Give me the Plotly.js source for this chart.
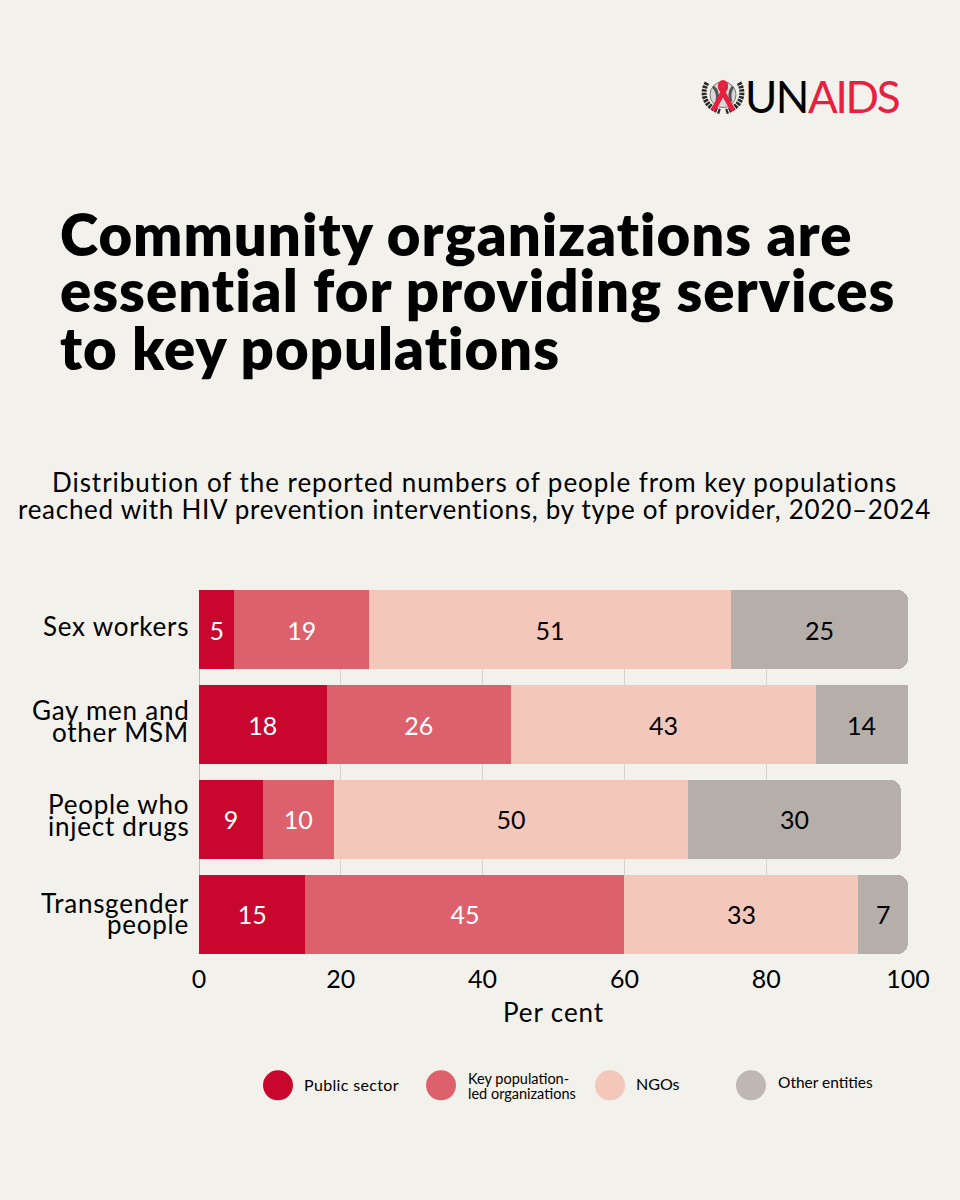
<!DOCTYPE html>
<html><head><meta charset="utf-8">
<script src="https://cdn.plot.ly/plotly-3.0.1.min.js"></script>
<style>html,body{margin:0;padding:0;background:#f2f1ec}</style></head>
<body><div id="chart" style="width:960px;height:1200px"></div>
<script>
const categories = ["Sex workers","Gay men and other MSM","People who inject drugs","Transgender people"];
const categoryLines = [["Sex workers"],["Gay men and","other MSM"],["People who","inject drugs"],["Transgender","people"]];
const seriesNames = ["Public sector","Key population-led organizations","NGOs","Other entities"];
const publicSector = [5,18,9,15];
const keyPopLed = [19,26,10,45];
const ngos = [51,43,50,33];
const otherEntities = [25,14,30,7];
const barColors = ["#c9062d","#dc616d","#f4c7bb","#b6aea8"];
const legendColors = ["#c9062d","#dc616d","#f4c7bb","#bfb7b2"];
const textColors = ["#fff","#fff","#000","#000"];
const titleLines = ["Community organizations are","essential for providing services","to key populations"];
const subtitleLines = ["Distribution of the reported numbers of people from key populations","reached with HIV prevention interventions, by type of provider, 2020–2024"];
const xTicks = [0,20,40,60,80,100];

const L=199,T=590,W=709,H=364.5;
const px=x=>(x-L)/W, py=y=>1-(y-T)/H;
const F="Lato, sans-serif";
const sp=(t,s)=>`<span style="letter-spacing:${s}px">${t}</span>`;
const ann=(text,x,y,size,anchor,opts)=>Object.assign({text,x:px(x),y:py(y),xref:"paper",yref:"paper",showarrow:false,xanchor:anchor,yanchor:"middle",align:anchor==="middle"?"center":anchor,font:{family:F,size,color:"#000"},borderpad:0,borderwidth:0},opts||{});

const annotations=[];
titleLines.forEach((t,i)=>annotations.push(ann(sp(t,1.0),60,[233,289,347][i],58,"left",{font:{family:F,size:58,color:"#000",weight:800}})));
subtitleLines.forEach((t,i)=>annotations.push(ann(sp(t,[0.95,0.72][i]),474.5,[482,509][i],26,"middle")));
const catY=[[626],[710,732],[804,826],[903,924]];
categoryLines.forEach((ls,i)=>ls.forEach((t,j)=>annotations.push(ann(sp(t,0.75),189,catY[i][j],26,"right"))));
// legend
const legendX=[278,441,610,751];
const shapes=legendX.map((x,i)=>({type:"circle",xref:"paper",yref:"paper",x0:px(x-15),x1:px(x+15),y0:py(1101),y1:py(1071),fillcolor:legendColors[i],line:{width:0}}));
annotations.push(ann(sp("Public sector",0.35),304,1085,16,"left"));
annotations.push(ann("Key population-",468,1079,14.5,"left"));
annotations.push(ann("led organizations",468,1094,14.5,"left"));
annotations.push(ann("NGOs",636,1084,16,"left"));
annotations.push(ann("Other entities",778,1083,15.5,"left"));
// the Other entities label of a stack running past the axis end sits in the visible part
const totals=categories.map((c,i)=>publicSector[i]+keyPopLed[i]+ngos[i]);
otherEntities.forEach((v,i)=>{ if(totals[i]+v>100) annotations.push({text:String(v),x:(totals[i]+100)/2,y:categories[i],xref:"x",yref:"y",showarrow:false,xanchor:"middle",yanchor:"middle",font:{family:F,size:25,color:"#000"}}); });
// logo
annotations.push(ann(sp("UN",-1.6),744.5,95,44,"left",{font:{family:F,size:44,color:"#000"}}));
annotations.push(ann(sp("AIDS",-2.3),808,95,44,"left",{font:{family:F,size:44,color:"#e8203f"}}));
const emblem=`<svg xmlns="http://www.w3.org/2000/svg" width="44" height="38" viewBox="0 0 44 38"><g fill="none"><circle cx="22" cy="17" r="13" fill="#d8d8d6" stroke="#777" stroke-width="1"/><path d="M12 9Q18 14 16 24M32 9Q27 16 30 24" stroke="#555" stroke-width="3"/><path d="M6 5C0 15 3 29 19 34M38 5C44 15 41 29 25 34" stroke="#2a2a2a" stroke-width="5" stroke-dasharray="2.5 1"/><path d="M12 33L24.5 10C26 3 18 3 19.500 10L32 33" stroke="#e8203f" stroke-width="5"/></g></svg>`;

const traces=[publicSector,keyPopLed,ngos,otherEntities].map((v,i)=>({
 type:"bar",orientation:"h",name:seriesNames[i],x:v,y:categories,
 marker:{color:barColors[i],line:{width:0}},
 text:v.map((n,k)=>(i===3&&totals[k]+n>100)?"":String(n)),textposition:"inside",insidetextanchor:"middle",textangle:0,constraintext:"none",
 textfont:{family:F,size:25,color:textColors[i]},hoverinfo:"none",showlegend:false}));

const layout={width:960,height:1200,paper_bgcolor:"#f2f1ec",plot_bgcolor:"#f2f1ec",
 margin:{l:L,t:T,r:960-L-W,b:1200-T-H,pad:0},barmode:"stack",bargap:0.168,barcornerradius:10,showlegend:false,
 font:{family:F,color:"#000"},
 xaxis:{range:[0,100],tickvals:xTicks,ticks:"",showline:false,showgrid:true,gridcolor:"#d5d3ce",gridwidth:1,zeroline:true,zerolinecolor:"#bdbbb7",zerolinewidth:1,
  tickfont:{family:F,size:25,color:"#000"},ticklabelstandoff:8,title:{text:sp("Per cent",0.9),font:{family:F,size:26,color:"#000"},standoff:11}},
 yaxis:{type:"category",categoryorder:"array",categoryarray:categories,range:[3.416,-0.416],showticklabels:false,showgrid:false,zeroline:false,showline:false,ticks:""},
 annotations,shapes,
 images:[{source:"data:image/svg+xml;utf8,"+encodeURIComponent(emblem),xref:"paper",yref:"paper",x:px(701),y:py(77),sizex:44/W,sizey:38/H,xanchor:"left",yanchor:"top",sizing:"stretch",layer:"above"}]
};
Plotly.newPlot("chart",traces,layout,{displayModeBar:false,responsive:false});
</script></body></html>
